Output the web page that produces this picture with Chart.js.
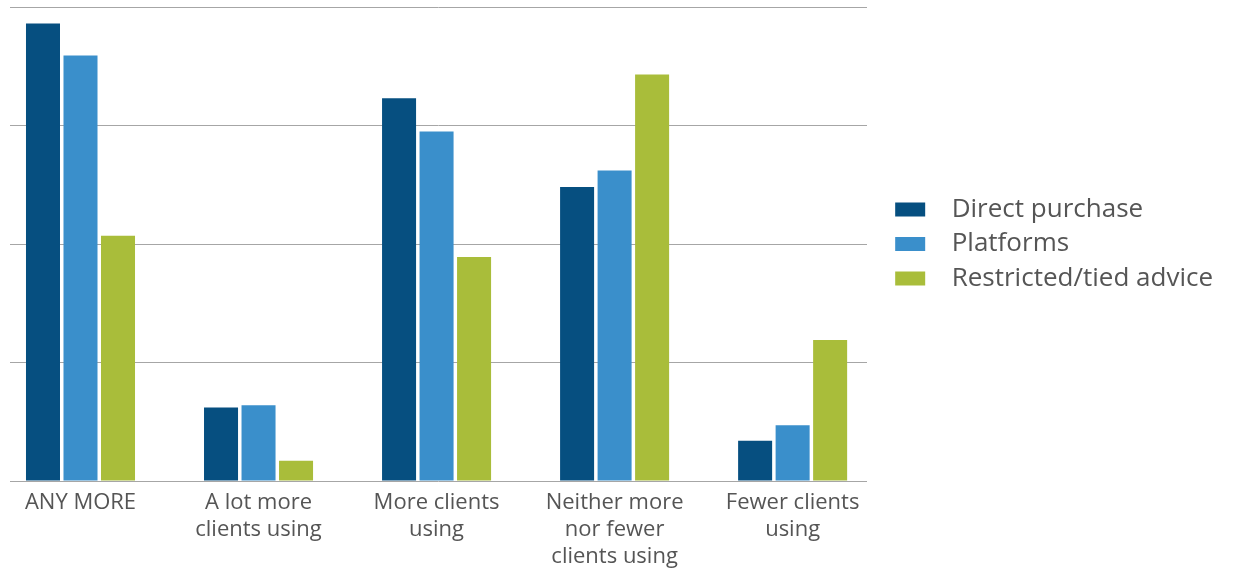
<!DOCTYPE html>
<html>
<head>
<meta charset="utf-8">
<script src="https://cdn.jsdelivr.net/npm/chart.js@4"></script>
<style>
  body { margin: 0; background: #fff; }
  #wrap { width: 1243px; height: 573px; }
</style>
</head>
<body>
<div id="wrap"><canvas id="clientsChart"></canvas></div>
<script>
  const categories = [
    ["ANY MORE"],
    ["A lot more", "clients using"],
    ["More clients", "using"],
    ["Neither more", "nor fewer", "clients using"],
    ["Fewer clients", "using"],
  ];
  const directPurchase = [38.6, 6.2, 32.3, 24.8, 3.4];
  const platforms = [35.9, 6.4, 29.5, 26.2, 4.7];
  const restrictedAdvice = [20.7, 1.7, 18.9, 34.3, 11.9];
  const yTicks = [0, 10, 20, 30, 40];

  const toPoints = (values) => values.map((v, i) => ({ x: i, y: v }));

  const ctx = document.getElementById("clientsChart");

  new Chart(ctx, {
    type: "bar",
    data: {
      datasets: [
        {
          label: "Direct purchase",
          data: toPoints(directPurchase),
          backgroundColor: "#064f80",
        },
        {
          label: "Platforms",
          data: toPoints(platforms),
          backgroundColor: "#3a8fcb",
        },
        {
          label: "Restricted/tied advice",
          data: toPoints(restrictedAdvice),
          backgroundColor: "#a9bd3a",
        },
      ],
    },
    options: {
      responsive: true,
      maintainAspectRatio: false,
      animation: false,
      categoryPercentage: 0.632,
      barPercentage: 0.907,
      layout: {
        padding: { left: 10, top: 7, right: 20, bottom: 0 },
      },
      plugins: {
        tooltip: { enabled: false },
        legend: {
          position: "right",
          fullSize: false,
          maxWidth: 420,
          labels: {
            boxWidth: 30,
            boxHeight: 14,
            padding: 8.5,
            color: "#555",
            font: { family: "Open Sans", size: 26 },
            generateLabels: (chart) =>
              Chart.defaults.plugins.legend.labels
                .generateLabels(chart)
                .map((item) => ({ ...item, text: "  " + item.text })),
          },
        },
      },
      scales: {
        x: {
          type: "linear",
          offset: false,
          min: -0.396,
          max: 4.416,
          grid: { display: false, drawTicks: false },
          border: { display: false },
          afterFit: (scale) => {
            scale.height = 92;
          },
          ticks: {
            stepSize: 1,
            includeBounds: false,
            autoSkip: false,
            maxRotation: 0,
            padding: 8,
            color: "#555",
            font: { family: "Open Sans", size: 22, lineHeight: 1.23 },
            callback: (value) =>
              Number.isInteger(value) ? categories[value] : "",
          },
        },
        // value axis sits on the right, its empty strip separates plot and legend
        y: {
          position: "right",
          min: yTicks[0],
          max: yTicks[yTicks.length - 1],
          afterBuildTicks: (scale) => {
            scale.ticks = yTicks.map((v) => ({ value: v }));
          },
          afterFit: (scale) => {
            scale.width = 20;
          },
          border: { display: false },
          grid: { color: "#a6a6a6", lineWidth: 1, drawTicks: false },
          ticks: { display: false },
        },
      },
    },
  });
</script>
</body>
</html>
